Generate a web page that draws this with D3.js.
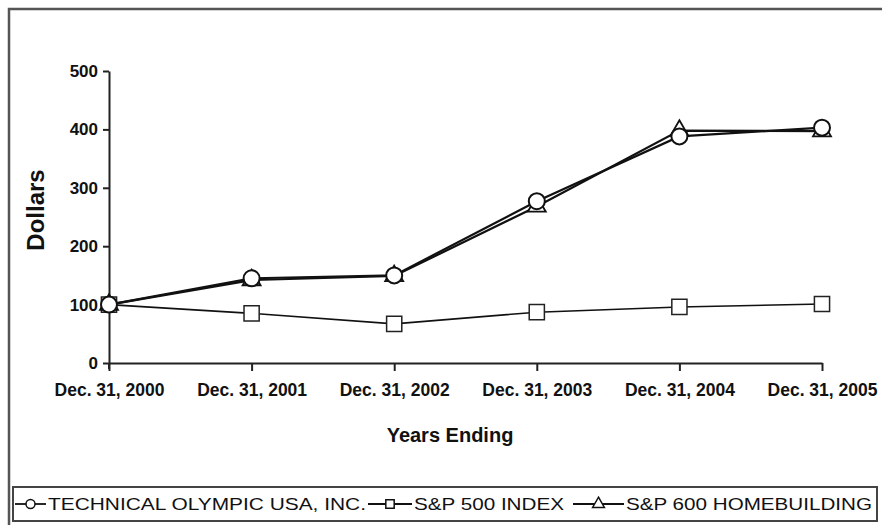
<!DOCTYPE html>
<html>
<head>
<meta charset="utf-8">
<script src="https://cdn.jsdelivr.net/npm/d3@7"></script>
<style>
  body { margin: 0; background: #fff; overflow: hidden; }
  svg { display: block; }
  text { font-family: "Liberation Sans", Arial, sans-serif; font-weight: bold; fill: #111; }
</style>
</head>
<body>
<div id="chart"></div>
<script>
// data
var years = ["Dec. 31, 2000", "Dec. 31, 2001", "Dec. 31, 2002", "Dec. 31, 2003", "Dec. 31, 2004", "Dec. 31, 2005"];
var tolValues = [100, 145, 150, 277, 388, 403];
var sp500Values = [100, 85, 67, 87, 96, 101];
var sp600Values = [100, 142, 149, 268, 398, 397];
var yTicks = [0, 100, 200, 300, 400, 500];
var seriesNames = ["TECHNICAL OLYMPIC USA, INC.", "S&P 500 INDEX", "S&P 600 HOMEBUILDING"];

var W = 882, H = 525;
var margin = {top: 71, left: 109};
var width = 822 - margin.left,
    height = 363 - margin.top;

var svg = d3.select("#chart").append("svg")
    .attr("width", W)
    .attr("height", H);

// outer frame: only left and top edges fall inside the picture
svg.append("path")
    .attr("d", "M9," + H + "V9H" + W)
    .attr("fill", "none")
    .attr("stroke", "#555")
    .attr("stroke-width", 2.5);

var g = svg.append("g")
    .attr("transform", "translate(" + margin.left + "," + margin.top + ")");

var x = d3.scalePoint()
    .domain(years)
    .range([0, width]);

var y = d3.scaleLinear()
    .domain([0, 500])
    .range([height, 0]);

// axes
var xAxis = g.append("g")
    .attr("transform", "translate(0," + height + ")")
    .call(d3.axisBottom(x).tickSize(8).tickSizeOuter(0).tickPadding(13));
xAxis.selectAll("text")
    .style("font-size", "17.5px")
    .style("font-family", "Liberation Sans, Arial, sans-serif")
    .style("font-weight", "bold")
    .attr("fill", "#111");

var yAxis = g.append("g")
    .call(d3.axisLeft(y).tickValues(yTicks).tickSize(6).tickSizeOuter(0).tickPadding(5));
yAxis.selectAll("text")
    .style("font-size", "17px")
    .style("font-family", "Liberation Sans, Arial, sans-serif")
    .style("font-weight", "bold")
    .attr("fill", "#111");

g.selectAll(".domain, .tick line")
    .attr("stroke", "#222")
    .attr("stroke-width", 2);

// y axis extends a bit below 0
g.append("line")
    .attr("x1", 0).attr("x2", 0)
    .attr("y1", height).attr("y2", height + 6)
    .attr("stroke", "#222").attr("stroke-width", 2);

// axis labels
svg.append("text")
    .attr("transform", "translate(44,210) rotate(-90)")
    .attr("text-anchor", "middle")
    .style("font-size", "24px")
    .text("Dollars");

svg.append("text")
    .attr("x", 450)
    .attr("y", 442)
    .attr("text-anchor", "middle")
    .style("font-size", "20px")
    .text("Years Ending");

var line = d3.line()
    .x(function(d, i) { return x(years[i]); })
    .y(function(d) { return y(d); });

// S&P 500
g.append("path")
    .datum(sp500Values)
    .attr("d", line)
    .attr("fill", "none")
    .attr("stroke", "#111")
    .attr("stroke-width", 1.6);

// S&P 600
g.append("path")
    .datum(sp600Values)
    .attr("d", line)
    .attr("fill", "none")
    .attr("stroke", "#111")
    .attr("stroke-width", 2.2);

// TOL
g.append("path")
    .datum(tolValues)
    .attr("d", line)
    .attr("fill", "none")
    .attr("stroke", "#111")
    .attr("stroke-width", 2.2);

var sqSym = d3.symbol().type(d3.symbolSquare).size(230);
var triSym = d3.symbol().type(d3.symbolTriangle).size(140);

g.selectAll(".sq")
    .data(sp500Values)
    .enter().append("path")
    .attr("class", "sq")
    .attr("d", sqSym)
    .attr("transform", function(d, i) { return "translate(" + x(years[i]) + "," + y(d) + ")"; })
    .attr("fill", "#fff")
    .attr("stroke", "#222")
    .attr("stroke-width", 1.5);

g.selectAll(".tri")
    .data(sp600Values)
    .enter().append("path")
    .attr("class", "tri")
    .attr("d", triSym)
    .attr("transform", function(d, i) { return "translate(" + x(years[i]) + "," + y(d) + ")"; })
    .attr("fill", "#fff")
    .attr("stroke", "#111")
    .attr("stroke-width", 1.8);

g.selectAll(".circ")
    .data(tolValues)
    .enter().append("circle")
    .attr("class", "circ")
    .attr("cx", function(d, i) { return x(years[i]); })
    .attr("cy", function(d) { return y(d); })
    .attr("r", 8)
    .attr("fill", "#fff")
    .attr("stroke", "#111")
    .attr("stroke-width", 2);

// legend
svg.append("rect")
    .attr("x", 13).attr("y", 487)
    .attr("width", 864).attr("height", 34)
    .attr("fill", "#fff")
    .attr("stroke", "#444")
    .attr("stroke-width", 2);

var legendItems = [
    {name: seriesNames[0], x: 15, tx: 48, sym: "circle"},
    {name: seriesNames[1], x: 368, tx: 414, sym: "square"},
    {name: seriesNames[2], x: 573, tx: 626, sym: "triangle"}
];
var legendW = [318, 150, 246];

legendItems.forEach(function(d, i) {
    var row = svg.append("g").attr("transform", "translate(" + d.x + ",504)");
    var lw = d.tx - d.x - 2;
    row.append("line")
        .attr("x1", 0).attr("x2", lw)
        .attr("y1", 0).attr("y2", 0)
        .attr("stroke", "#111").attr("stroke-width", 1.8);
    var cx = lw / 2;
    if (d.sym === "circle") {
        row.append("circle").attr("cx", cx).attr("cy", 0).attr("r", 4.5)
            .attr("fill", "#fff").attr("stroke", "#111").attr("stroke-width", 1.5);
    } else if (d.sym === "square") {
        row.append("path").attr("d", d3.symbol().type(d3.symbolSquare).size(70)())
            .attr("transform", "translate(" + cx + ",0)")
            .attr("fill", "#fff").attr("stroke", "#111").attr("stroke-width", 1.5);
    } else {
        row.append("path").attr("d", d3.symbol().type(d3.symbolTriangle).size(60)())
            .attr("transform", "translate(" + cx + ",0)")
            .attr("fill", "#fff").attr("stroke", "#111").attr("stroke-width", 1.5);
    }
    svg.append("text")
        .attr("x", d.tx)
        .attr("y", 510)
        .attr("textLength", legendW[i])
        .attr("lengthAdjust", "spacingAndGlyphs")
        .style("font-size", "17px")
        .style("font-weight", "normal")
        .style("font-family", "Liberation Sans Narrow, Liberation Sans, Arial, sans-serif")
        .text(d.name);
});
</script>
</body>
</html>
